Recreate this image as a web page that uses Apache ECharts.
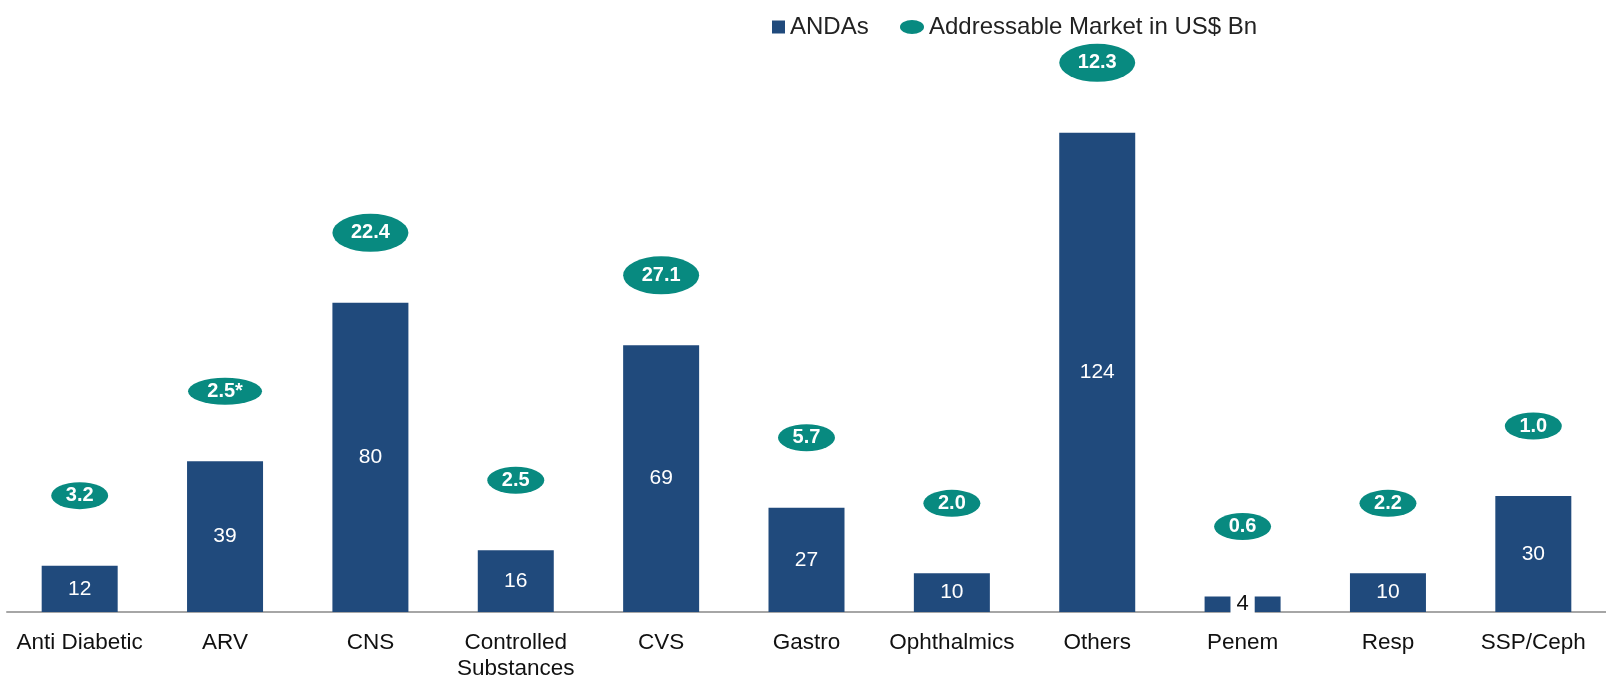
<!DOCTYPE html>
<html>
<head>
<meta charset="utf-8">
<script src="https://cdn.jsdelivr.net/npm/echarts@6/dist/echarts.min.js"></script>
<style>
  html, body { margin: 0; padding: 0; background: #fff; }
  #main { width: 1606px; height: 678px; }
</style>
</head>
<body>
<div id="main"></div>
<script>
// categories / values
var categories = ['Anti Diabetic', 'ARV', 'CNS', 'Controlled\nSubstances', 'CVS', 'Gastro',
  'Ophthalmics', 'Others', 'Penem', 'Resp', 'SSP/Ceph'];
var andas = [12, 39, 80, 16, 69, 27, 10, 124, 4, 10, 30];
var marketLabels = ['3.2', '2.5*', '22.4', '2.5', '27.1', '5.7', '2.0', '12.3', '0.6', '2.2', '1.0'];

var barColor = '#204a7c';
var teal = '#088a80';
// flat ellipse for the legend marker
var ellipseIcon = 'path://M0,7A12,7 0 1,1 24,7A12,7 0 1,1 0,7Z';

var myChart = echarts.init(document.getElementById('main'));

// bubble size depends on how long its text is
function bubbleSize(val, params) {
  var t = marketLabels[params.dataIndex];
  if (parseFloat(t) >= 10) return [76, 38];
  if (t.length > 3) return [74, 27];
  return [57, 27];
}

myChart.setOption({
  animation: false,
  textStyle: { fontFamily: 'Liberation Sans, Arial, sans-serif' },
  legend: [
    {
      data: [{ name: 'ANDAs', icon: 'rect' }],
      left: 767, top: 10,
      itemWidth: 13, itemHeight: 13, itemGap: 4,
      textStyle: { fontSize: 24, color: '#222' }
    },
    {
      data: [{ name: 'Addressable Market in US$ Bn', icon: ellipseIcon }],
      left: 895, top: 10,
      itemWidth: 24, itemHeight: 14, itemGap: 5,
      textStyle: { fontSize: 24, color: '#222' }
    }
  ],
  grid: { left: 7, right: 0, top: 71, bottom: 66, containLabel: false, outerBoundsMode: 'none' },
  xAxis: {
    type: 'category',
    data: categories,
    axisLine: { lineStyle: { color: '#a6a6a6', width: 2 } },
    axisTick: { show: false },
    axisLabel: { fontSize: 22.5, color: '#111', margin: 18, lineHeight: 26, interval: 0 }
  },
  yAxis: {
    type: 'value',
    min: 0, max: 140,
    show: false,
    splitLine: { show: false }
  },
  series: [
    {
      name: 'ANDAs',
      type: 'bar',
      data: andas.map(function (v) {
        if (v < 8) {
          return { value: v, label: { color: '#111', backgroundColor: '#fff', padding: [2, 6], fontSize: 22 } };
        }
        return v;
      }),
      barWidth: 76,
      itemStyle: { color: barColor },
      label: { show: true, position: 'inside', color: '#fff', fontSize: 21 }
    },
    {
      name: 'Addressable Market in US$ Bn',
      type: 'scatter',
      data: andas,
      symbol: 'circle',
      symbolSize: bubbleSize,
      symbolOffset: [0, -70],
      itemStyle: { color: teal, opacity: 1 },
      label: {
        show: true,
        position: 'inside',
        color: '#fff',
        fontSize: 20,
        fontWeight: 'bold',
        formatter: function (p) { return marketLabels[p.dataIndex]; }
      },
      z: 3
    }
  ]
});
window.addEventListener('resize', myChart.resize, false);
</script>
</body>
</html>
